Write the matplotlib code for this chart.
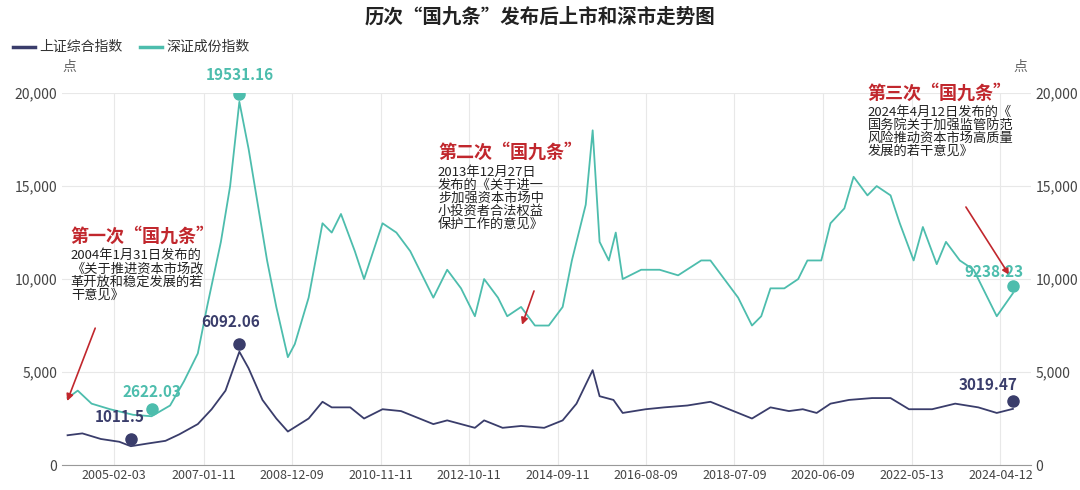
import matplotlib.pyplot as plt
import numpy as np

plt.rcParams['font.family'] = ['Noto Sans CJK SC', 'DejaVu Sans']

# Data (decimal years, index points)
sz_t = [2004.08, 2004.3, 2004.6, 2005.0, 2005.5, 2005.9, 2006.3, 2006.6, 2006.9, 2007.1,
        2007.4, 2007.6, 2007.8, 2008.0, 2008.2, 2008.4, 2008.6, 2008.85, 2009.0, 2009.3,
        2009.6, 2009.8, 2010.0, 2010.3, 2010.5, 2010.9, 2011.2, 2011.5, 2011.8, 2012.0,
        2012.3, 2012.6, 2012.9, 2013.1, 2013.4, 2013.6, 2013.9, 2014.2, 2014.5, 2014.8,
        2015.0, 2015.3, 2015.45, 2015.6, 2015.8, 2015.95, 2016.1, 2016.5, 2016.9, 2017.3,
        2017.8, 2018.0, 2018.3, 2018.6, 2018.9, 2019.1, 2019.3, 2019.6, 2019.9, 2020.1,
        2020.4, 2020.6, 2020.9, 2021.1, 2021.4, 2021.6, 2021.9, 2022.1, 2022.4, 2022.6,
        2022.9, 2023.1, 2023.4, 2023.7, 2023.9, 2024.2, 2024.55]
sz_v = [3600, 4000, 3300, 3000, 2700, 2622, 3200, 4500, 6000, 8500,
        12000, 15000, 19531, 17000, 14000, 11000, 8500, 5800, 6500, 9000,
        13000, 12500, 13500, 11500, 10000, 13000, 12500, 11500, 10000, 9000,
        10500, 9500, 8000, 10000, 9000, 8000, 8500, 7500, 7500, 8500,
        11000, 14000, 18000, 12000, 11000, 12500, 10000, 10500, 10500, 10200,
        11000, 11000, 10000, 9000, 7500, 8000, 9500, 9500, 10000, 11000,
        11000, 13000, 13800, 15500, 14500, 15000, 14500, 13000, 11000, 12800,
        10800, 12000, 11000, 10500, 9500, 8000, 9238]

sh_t = [2004.08, 2004.4, 2004.8, 2005.2, 2005.45, 2005.8, 2006.2, 2006.5, 2006.9, 2007.2,
        2007.5, 2007.8, 2008.0, 2008.3, 2008.6, 2008.85, 2009.3, 2009.6, 2009.8, 2010.2,
        2010.5, 2010.9, 2011.3, 2011.7, 2012.0, 2012.3, 2012.9, 2013.1, 2013.5, 2013.9,
        2014.4, 2014.8, 2015.1, 2015.45, 2015.6, 2015.9, 2016.1, 2016.6, 2017.0, 2017.5,
        2018.0, 2018.4, 2018.9, 2019.3, 2019.7, 2020.0, 2020.3, 2020.6, 2021.0, 2021.5,
        2021.9, 2022.3, 2022.8, 2023.3, 2023.8, 2024.2, 2024.55]
sh_v = [1600, 1700, 1400, 1250, 1011, 1150, 1300, 1650, 2200, 3000,
        4000, 6092, 5200, 3500, 2500, 1800, 2500, 3400, 3100, 3100,
        2500, 3000, 2900, 2500, 2200, 2400, 2000, 2400, 2000, 2100,
        2000, 2400, 3300, 5100, 3700, 3500, 2800, 3000, 3100, 3200,
        3400, 3000, 2500, 3100, 2900, 3000, 2800, 3300, 3500, 3600,
        3600, 3000, 3000, 3300, 3100, 2800, 3019]

tick_pos = [2005.09, 2007.03, 2008.94, 2010.86, 2012.78, 2014.69, 2016.6, 2018.52, 2020.44, 2022.36, 2024.28]
tick_labels = ['2005-02-03', '2007-01-11', '2008-12-09', '2010-11-11', '2012-10-11', '2014-09-11',
               '2016-08-09', '2018-07-09', '2020-06-09', '2022-05-13', '2024-04-12']

navy = '#3a3d6b'
teal = '#4dbdad'
red = '#c1272d'

fig = plt.figure(figsize=(10.8, 4.9), dpi=100)
ax = fig.add_axes([0.057, 0.051, 0.898, 0.759])
ax2 = ax.twinx()

ax.plot(sz_t, sz_v, color=teal, lw=1.3)
ax.plot(sh_t, sh_v, color=navy, lw=1.3)

ax.set_xlim(2003.95, 2024.95)
for a in (ax, ax2):
    a.set_ylim(0, 20000)
    a.set_yticks([0, 5000, 10000, 15000, 20000])
    a.set_yticklabels(['0', '5,000', '10,000', '15,000', '20,000'], color='#444', fontsize=10)
    for s in a.spines.values():
        s.set_visible(False)
    a.tick_params(length=0, pad=3)
ax.spines['bottom'].set_visible(True)
ax.spines['bottom'].set_color('#999')
ax.set_xticks(tick_pos)
ax.set_xticklabels(tick_labels, fontsize=9, color='#444')
ax.grid(True, color='#e8e8e8', lw=0.8)
ax.set_axisbelow(True)

# markers and value labels
marks = [(2005.9, 2622, '2622.03', teal, (0, 6)), (2007.8, 19531, '19531.16', teal, (0, 8)),
         (2024.55, 9238, '9238.23', teal, (-14, 4)), (2005.45, 1011, '1011.5', navy, (-8, 10)),
         (2007.8, 6092, '6092.06', navy, (-6, 10)), (2024.55, 3019, '3019.47', navy, (-18, 6))]
for x, y, txt, c, off in marks:
    ax.plot(x, y + 400, 'o', color=c, ms=8, zorder=5)
    ax.annotate(txt, (x, y + 400), xytext=off, textcoords='offset points', ha='center',
                va='bottom', color=c, fontsize=11, fontweight='bold', zorder=6)

notes = [(2004.15, 11800, '第一次“国九条”', '2004年1月31日发布的\n《关于推进资本市场改\n革开放和稳定发展的若\n干意见》', (2004.05, 3300), (2004.7, 7500)),
         (2012.1, 16300, '第二次“国九条”', '2013年12月27日\n发布的《关于进一\n步加强资本市场中\n小投资者合法权益\n保护工作的意见》', (2013.9, 7400), (2014.2, 9500)),
         (2021.4, 19500, '第三次“国九条”', '2024年4月12日发布的《\n国务院关于加强监管防范\n风险推动资本市场高质量\n发展的若干意见》', (2024.5, 10100), (2023.5, 14000))]
for x, y, head, body, tip, tail in notes:
    ax.text(x, y, head, color=red, fontsize=13, fontweight='bold', va='bottom')
    ax.text(x, y - 200, body, color='#222', fontsize=9.5, va='top', linespacing=1.0)
    ax.annotate('', xy=tip, xytext=tail, arrowprops=dict(arrowstyle='-|>', color=red, lw=1.2))

fig.text(0.5, 0.965, '历次“国九条”发布后上市和深市走势图', ha='center', va='center',
         fontsize=14, fontweight='bold', color='#222')
fig.text(0.058, 0.855, '点', fontsize=10, color='#666')
fig.text(0.938, 0.855, '点', fontsize=10, color='#666')

# legend
fig.add_artist(plt.Line2D([0.012, 0.032], [0.905, 0.905], color=navy, lw=2.5))
fig.text(0.036, 0.905, '上证综合指数', va='center', fontsize=10, color='#333')
fig.add_artist(plt.Line2D([0.13, 0.15], [0.905, 0.905], color=teal, lw=2.5))
fig.text(0.154, 0.905, '深证成份指数', va='center', fontsize=10, color='#333')

fig.savefig('out.png', dpi=100)
